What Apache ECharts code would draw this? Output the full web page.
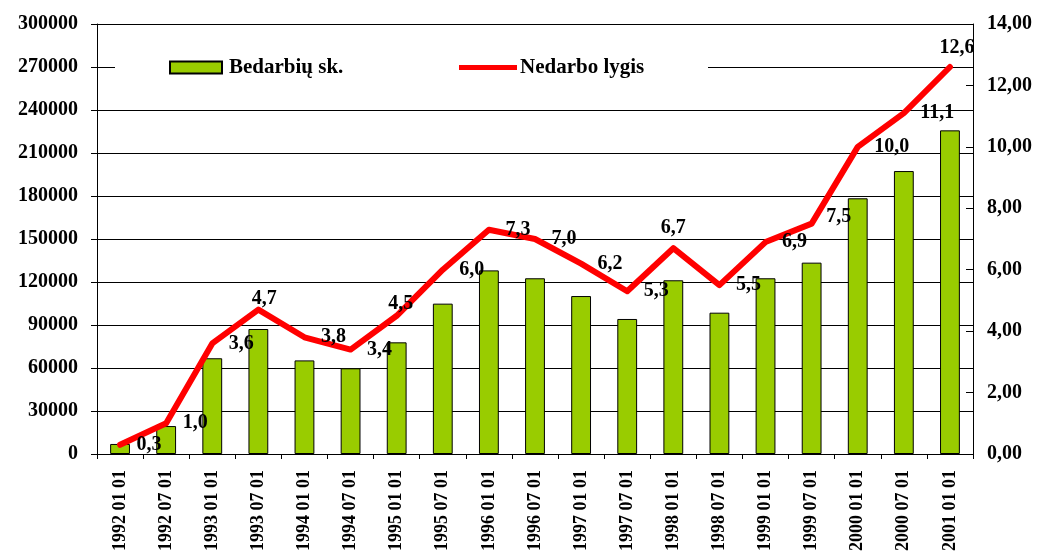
<!DOCTYPE html>
<html>
<head>
<meta charset="utf-8">
<script src="https://cdn.jsdelivr.net/npm/echarts@6/dist/echarts.min.js"></script>
<style>html,body{margin:0;padding:0;background:#fff}#c{width:1039px;height:555px}</style>
</head>
<body>
<div id="c"></div>
<script>
const categories = ['1992 01 01','1992 07 01','1993 01 01','1993 07 01','1994 01 01','1994 07 01','1995 01 01','1995 07 01','1996 01 01','1996 07 01','1997 01 01','1997 07 01','1998 01 01','1998 07 01','1999 01 01','1999 07 01','2000 01 01','2000 07 01','2001 01 01'];
const unemployed = [7000,19500,66800,87200,65300,59800,77900,104900,128100,122600,110200,94200,121200,98600,122600,133500,178400,197400,225800];
const rate = [0.3,1.0,3.6,4.7,3.8,3.4,4.5,6.0,7.3,7.0,6.2,5.3,6.7,5.5,6.9,7.5,10.0,11.1,12.6];
const seriesNames = ['Bedarbių sk.','Nedarbo lygis'];

const FONT = 'Liberation Serif';
const txt = {fontFamily: FONT, fontWeight: 'bold', color: '#000'};

// label placement styling (not data)
const labelTweaks = {
  3: {position: 'inside', offset: [6, -11]},
  6: {position: 'inside', offset: [4, -12]},
  12: {position: 'inside', offset: [0, -20]},
  15: {position: 'right', distance: 14, offset: [0, -7]},
  18: {position: 'inside', offset: [7, -19]}
};
const rateData = rate.map((v, i) => labelTweaks[i] ? {value: v, label: labelTweaks[i]} : v);

const chart = echarts.init(document.getElementById('c'));
chart.setOption({
  animation: false,
  backgroundColor: '#fff',
  grid: {left: 97, right: 66, top: 24, bottom: 101},
  graphic: [{type: 'rect', z: 1, shape: {x: 115, y: 56, width: 593, height: 24}, style: {fill: '#fff'}}],
  legend: [
    {data: [seriesNames[0]], left: 169, top: 57, icon: 'rect', itemWidth: 52, itemHeight: 12, itemGap: 0, padding: 0,
     textStyle: Object.assign({fontSize: 21, padding: [0, 0, 0, 2]}, txt), z: 5},
    {data: [seriesNames[1]], left: 459, top: 57, icon: 'rect', itemWidth: 58, itemHeight: 5, itemGap: 0, padding: 0,
     itemStyle: {borderWidth: 0},
     textStyle: Object.assign({fontSize: 21, padding: [0, 0, 0, -2]}, txt), z: 5}
  ],
  xAxis: {
    type: 'category', data: categories, boundaryGap: true,
    axisLine: {lineStyle: {color: '#000', width: 1}},
    axisTick: {show: true, length: 5, lineStyle: {color: '#000'}},
    axisLabel: Object.assign({rotate: 90, fontSize: 18, margin: 16, interval: 0}, txt)
  },
  yAxis: [
    {type: 'value', min: 0, max: 300000, interval: 30000,
     axisLine: {show: true, lineStyle: {color: '#000'}},
     axisTick: {show: true, length: 6, lineStyle: {color: '#000'}},
     splitLine: {show: true, lineStyle: {color: '#000', width: 1}},
     axisLabel: Object.assign({fontSize: 20, margin: 19, formatter: v => String(v)}, txt)},
    {type: 'value', min: 0, max: 14, interval: 2, position: 'right',
     axisLine: {show: true, lineStyle: {color: '#000'}},
     axisTick: {show: true, inside: true, length: 7, lineStyle: {color: '#000'}},
     splitLine: {show: false},
     axisLabel: Object.assign({fontSize: 20, margin: 14, formatter: v => v.toFixed(2).replace('.', ',')}, txt)}
  ],
  series: [
    {name: seriesNames[0], type: 'bar', data: unemployed, yAxisIndex: 0, barWidth: '43%',
     itemStyle: {color: '#99CC00', borderColor: '#000', borderWidth: 1}, z: 2},
    {name: seriesNames[1], type: 'line', data: rateData, yAxisIndex: 1,
     symbol: 'circle', symbolSize: 1, showSymbol: true,
     itemStyle: {color: '#FF0000'},
     lineStyle: {color: '#FF0000', width: 6, join: 'round', cap: 'round'},
     label: Object.assign({show: true, position: 'right', distance: 16, fontSize: 20,
       formatter: p => p.value.toFixed(1).replace('.', ',')}, txt),
     z: 3}
  ]
});
</script>
</body>
</html>
